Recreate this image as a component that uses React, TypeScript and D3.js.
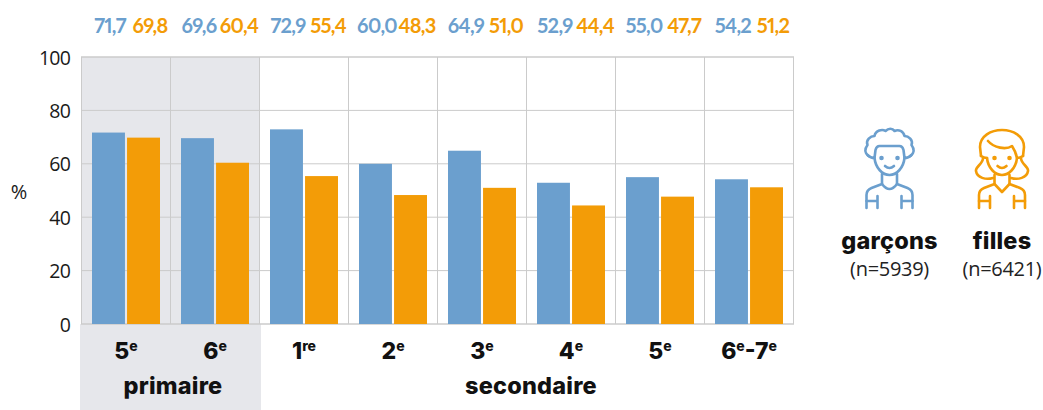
import React from "react";
import * as d3 from "d3";

const grades = ["5", "6", "1", "2", "3", "4", "5", "6-7"];
const suffixes = ["e", "e", "re", "e", "e", "e", "e", "e"];
const boys = [71.7, 69.6, 72.9, 60.0, 64.9, 52.9, 55.0, 54.2];
const girls = [69.8, 60.4, 55.4, 48.3, 51.0, 44.4, 47.7, 51.2];
const yTicks = [0, 20, 40, 60, 80, 100];
const BLUE = "#6b9fce";
const ORANGE = "#f39c07";
const GRID = "#cbcbcb";
const SHADE = "#e6e7eb";
const fmt = (v: number) => v.toFixed(1).replace(".", ",");
const HEAD = "Inter, sans-serif";
const BODY = "'Open Sans', sans-serif";
const VALUE = "Lato, sans-serif";

function Boy({ x, y }: { x: number; y: number }) {
  return (
    <g transform={`translate(${x},${y})`} fill="none" stroke={BLUE} strokeWidth={2.6} strokeLinecap="round" strokeLinejoin="round">
      <path d="M-21,-11 C-25,-14 -25,-18 -22,-22 C-24,-27 -19,-31 -15,-31 C-14,-37 -7,-38 -4,-36 C-1,-39 3,-39 5,-36 C9,-38 14,-36 15,-31 C19,-31 24,-27 22,-22 C25,-18 25,-14 21,-11" />
      <path d="M-22,-12 Q-19,-9 -15,-9 L-14,-17 Q-13,-21 -10,-21 L10,-21 Q13,-21 14,-17 L15,-9 Q19,-9 22,-12" />
      <path d="M-15,-9 C-14,1 -7,8 0,8 C7,8 14,1 15,-9" />
      <path d="M-7.5,7 L-7.5,17 L-18,21 Q-23,23 -23,28 L-23,41 M7.5,7 L7.5,17 L18,21 Q23,23 23,28 L23,41" />
      <path d="M-7.5,17 Q0,27 7.5,17 M-23,34 L-12,34 M-12,29 L-12,41 M23,34 L12,34 M12,29 L12,41" />
      <path d="M-4.5,-1 Q0,3 4.5,-1" />
      <circle cx={-8} cy={-9} r={1} fill={BLUE} />
      <circle cx={8} cy={-9} r={1} fill={BLUE} />
    </g>
  );
}

function Girl({ x, y }: { x: number; y: number }) {
  return (
    <g transform={`translate(${x},${y})`} fill="none" stroke={ORANGE} strokeWidth={2.6} strokeLinecap="round" strokeLinejoin="round">
      <path d="M-21,-11 L-22,-20 C-22,-31 -11,-37 0,-37 C11,-37 22,-31 22,-20 L21,-11" />
      <path d="M-14,-26 C-8,-19 4,-17 10,-21 C12,-18 14,-14 15,-9 Q18,-9 21,-11 M-21,-11 Q-18,-9 -15,-9" />
      <path d="M-15,-9 C-14,1 -7,8 0,8 C7,8 14,1 15,-9" />
      <path d="M-19,-9 C-19,-3 -27,0 -26,4 C-25,11 -16,13 -9,11 M19,-9 C19,-3 27,0 26,4 C25,11 16,13 9,11" />
      <path d="M-7.5,8 L-7.5,17 L-18,21 Q-23,23 -23,28 L-23,41 M7.5,8 L7.5,17 L18,21 Q23,23 23,28 L23,41" />
      <path d="M-7.5,17 L0,25 L7.5,17 M-23,34 L-12,34 M-12,29 L-12,41 M23,34 L12,34 M12,29 L12,41" />
      <path d="M-4.5,-1 Q0,3 4.5,-1" />
      <circle cx={-7.5} cy={-9} r={1} fill={ORANGE} />
      <circle cx={7.5} cy={-9} r={1} fill={ORANGE} />
    </g>
  );
}

export default function App() {
  const y = d3.scaleLinear().domain([0, 100]).range([324, 57]);
  const x = d3.scaleBand<number>().domain(d3.range(grades.length)).range([81.5, 793.5]);
  const sub = d3.scaleBand<string>().domain(["b", "g"]).range([10.5, 78.5]).paddingInner(0.06);
  const cw = x.bandwidth();
  const sup = { fontSize: 14, dy: -8 };
  return (
    <svg width={1043} height={410} style={{ position: "absolute", left: 0, top: 0 }}>
      <rect x={81} y={57} width={178.5} height={267} fill={SHADE} />
      <rect x={80} y={324} width={181} height={86} fill={SHADE} />
      {yTicks.map((t) => (
        <line key={t} x1={81} x2={794} y1={y(t)} y2={y(t)} stroke={GRID} strokeWidth={t === 0 || t === 100 ? 1.4 : 1} />
      ))}
      {d3.range(grades.length + 1).map((i) => (
        <line key={i} x1={81.5 + i * cw} x2={81.5 + i * cw} y1={57} y2={324} stroke={GRID} strokeWidth={1} />
      ))}
      {yTicks.map((t) => (
        <text key={t} x={70} y={y(t) + 7.5} textAnchor="end" fontFamily={BODY} fontSize={19.5} letterSpacing={-0.8} fill="#1a1a1a">{t}</text>
      ))}
      <text x={19} y={199} textAnchor="middle" fontFamily={BODY} fontSize={20} fill="#1a1a1a">%</text>
      {grades.map((g, i) => {
        const x0 = x(i)!;
        const isLast = i === grades.length - 1;
        const cx = x0 + cw / 2;
        const valueStyle = { fontVariantNumeric: "proportional-nums" };
        return (
          <g key={i}>
            <rect x={x0 + sub("b")!} y={y(boys[i])} width={sub.bandwidth()} height={y(0) - y(boys[i])} fill={BLUE} />
            <rect x={x0 + sub("g")!} y={y(girls[i])} width={sub.bandwidth()} height={y(0) - y(girls[i])} fill={ORANGE} />
            <text x={x0 + sub("b")! + 18} y={33} textAnchor="middle" fontFamily={VALUE} fontWeight={700} fontSize={20} letterSpacing={-0.7} fill={BLUE} style={valueStyle}>{fmt(boys[i])}</text>
            <text x={x0 + sub("g")! + 23} y={33} textAnchor="middle" fontFamily={VALUE} fontWeight={700} fontSize={20} letterSpacing={-0.7} fill={ORANGE} style={valueStyle}>{fmt(girls[i])}</text>
            <text x={cx} y={359} textAnchor="middle" fontFamily={HEAD} fontWeight={800} fontSize={23} fill="#111">
              {isLast ? (
                <>
                  6<tspan fontSize={sup.fontSize} dy={sup.dy}>e</tspan>
                  <tspan dy={-sup.dy}>-7</tspan>
                  <tspan fontSize={sup.fontSize} dy={sup.dy}>e</tspan>
                </>
              ) : (
                <>
                  {g}
                  <tspan fontSize={sup.fontSize} dy={sup.dy}>{suffixes[i]}</tspan>
                </>
              )}
            </text>
          </g>
        );
      })}
      <text x={173} y={394} textAnchor="middle" fontFamily={HEAD} fontWeight={800} fontSize={23.5} letterSpacing={0.2} fill="#111">primaire</text>
      <text x={531} y={394} textAnchor="middle" fontFamily={HEAD} fontWeight={800} fontSize={23.5} letterSpacing={0.2} fill="#111">secondaire</text>
      <Boy x={889.5} y={167} />
      <Girl x={1002} y={167} />
      <text x={889.5} y={249} textAnchor="middle" fontFamily={HEAD} fontWeight={800} fontSize={23.5} letterSpacing={0.2} fill="#111">garçons</text>
      <text x={1002} y={249} textAnchor="middle" fontFamily={HEAD} fontWeight={800} fontSize={23.5} letterSpacing={0.2} fill="#111">filles</text>
      <text x={889.5} y={276} textAnchor="middle" fontFamily={BODY} fontSize={20} letterSpacing={-0.3} fill="#222">(n=5939)</text>
      <text x={1002} y={276} textAnchor="middle" fontFamily={BODY} fontSize={20} letterSpacing={-0.3} fill="#222">(n=6421)</text>
    </svg>
  );
}
